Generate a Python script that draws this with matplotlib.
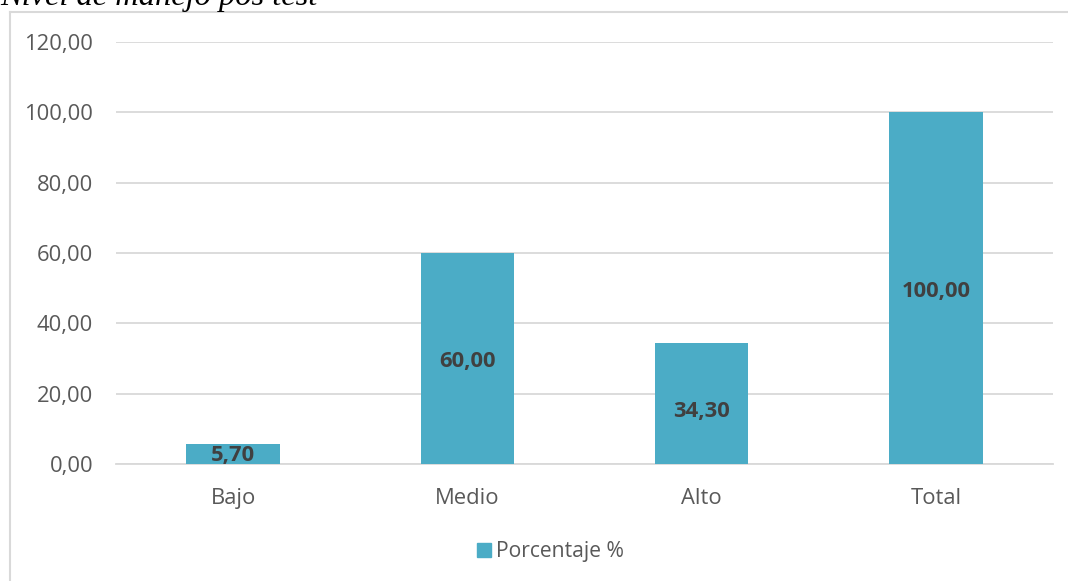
import matplotlib
matplotlib.use("Agg")
import matplotlib.pyplot as plt
from matplotlib.lines import Line2D
from matplotlib.patches import Rectangle

categories = ["Bajo", "Medio", "Alto", "Total"]
values = [5.70, 60.00, 34.30, 100.00]
label_y = [2.4, 29.2, 15.0, 49.0]
yticks = [0, 20, 40, 60, 80, 100, 120]
series_name = "Porcentaje %"
title = "Nivel de manejo pos test"

W, H = 1068, 581
fig = plt.figure(figsize=(W / 100, H / 100), dpi=100)
plt.rcParams['font.family'] = ['Open Sans', 'DejaVu Sans']

ax = fig.add_axes([116 / W, 1 - 464 / H, (1053 - 116) / W, (464 - 42) / H])
bar_color = "#4BACC6"
x = list(range(len(categories)))
ax.bar(x, values, width=0.4, color=bar_color, zorder=3)
ax.set_xlim(-0.5, 3.5)
ax.set_ylim(0, 120)
ax.set_yticks(yticks)
ax.set_yticklabels([f"{v:.2f}".replace(".", ",") for v in yticks])
ax.set_xticks(x)
ax.set_xticklabels(categories)
ax.grid(axis="y", color="#D9D9D9", linewidth=1.3, zorder=0)
for s in ["top", "right", "left"]:
    ax.spines[s].set_visible(False)
ax.spines["bottom"].set_color("#D9D9D9")
ax.spines["bottom"].set_linewidth(1.3)
ax.tick_params(axis="both", length=0, labelsize=15.8, colors="#595959")
ax.tick_params(axis="y", pad=16.5)
ax.tick_params(axis="x", pad=17.5)

for xi, v, ly in zip(x, values, label_y):
    ax.text(xi, ly, f"{v:.2f}".replace(".", ","), ha="center", va="center",
            fontsize=15.8, fontweight="bold", color="#404040", zorder=4)

# frame
fig.add_artist(Line2D([10 / W, 10 / W], [0, 1 - 12 / H], color="#D9D9D9", linewidth=1.5,
                      transform=fig.transFigure))
fig.add_artist(Line2D([10 / W, 1.0], [1 - 12 / H, 1 - 12 / H], color="#D9D9D9", linewidth=1.5,
                      transform=fig.transFigure))

# legend
fig.add_artist(Rectangle((477 / W, 1 - 557 / H), 14 / W, 14 / H, color=bar_color,
                         transform=fig.transFigure))
fig.text(496 / W, 1 - 551.5 / H, series_name, ha="left", va="center", fontsize=15.2, color="#595959")

# title (cut off at top, as in the reference)
fig.text(0 / W, 1 - 5 / H, title, ha="left", va="baseline", fontsize=23.4, style="italic",
         family="Liberation Serif", color="black")

fig.savefig("out.png", dpi=100)
